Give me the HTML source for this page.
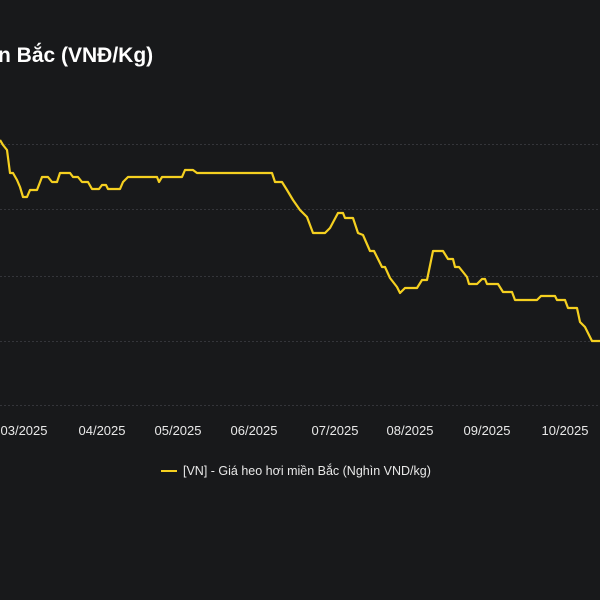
<!DOCTYPE html>
<html><head><meta charset="utf-8"><style>
html,body{margin:0;padding:0;background:#18191b;}
svg{display:block;font-family:"Liberation Sans",Arial,sans-serif;}
</style></head><body>
<svg width="600" height="600" viewBox="0 0 600 600">
<rect width="600" height="600" fill="#18191b"/>
<text x="-2" y="62" fill="#ffffff" font-size="21" font-weight="bold">n Bắc (VNĐ/Kg)</text>
<g stroke="#34353a" stroke-width="1" stroke-dasharray="2,2">
<line x1="0" y1="144.5" x2="600" y2="144.5"/>
<line x1="0" y1="209.5" x2="600" y2="209.5"/>
<line x1="0" y1="276.5" x2="600" y2="276.5"/>
<line x1="0" y1="341.5" x2="600" y2="341.5"/>
<line x1="0" y1="405.5" x2="600" y2="405.5"/>
</g>
<polyline fill="none" stroke="#f5d020" stroke-width="2.2" stroke-linejoin="round" points="0,140 3,145 7,150 10,173 13,173 17,180 20,187 23,197 27,197 30,190 37,190 42,177 48,177 52,182 57,182 60,173 70,173 73,177 78,177 82,182 88,182 92,189 99,189 102,185 106,185 108,189 120,189 123,182 128,177 157,177 159,182 162,177 182,177 185,170 193,170 197,173 272,173 275,182 282,182 287,190 293,200 300,210 307,217 313,233 325,233 330,228 338,213 343,213 345,218 353,218 358,233 363,235 370,251 374,251 382,267 385,267 390,278 397,287 400,293 405,288 417,288 422,280 427,280 433,251 443,251 448,259 453,259 455,267 459,267 467,277 469,284 477,284 482,279 485,279 487,284 498,284 503,292 512,292 515,300 537,300 541,296 555,296 557,300 565,300 568,308 577,308 580,322 585,327 592,341 600,341"/>
<g fill="#e8e8e8" font-size="13" text-anchor="middle">
<text x="24" y="435">03/2025</text>
<text x="102" y="435">04/2025</text>
<text x="178" y="435">05/2025</text>
<text x="254" y="435">06/2025</text>
<text x="335" y="435">07/2025</text>
<text x="410" y="435">08/2025</text>
<text x="487" y="435">09/2025</text>
<text x="565" y="435">10/2025</text>
</g>
<line x1="161" y1="471" x2="177" y2="471" stroke="#f5d020" stroke-width="2"/>
<text x="183" y="475" fill="#e8e8e8" font-size="12.5">[VN] - Giá heo hơi miền Bắc (Nghìn VND/kg)</text>
</svg>
</body></html>
